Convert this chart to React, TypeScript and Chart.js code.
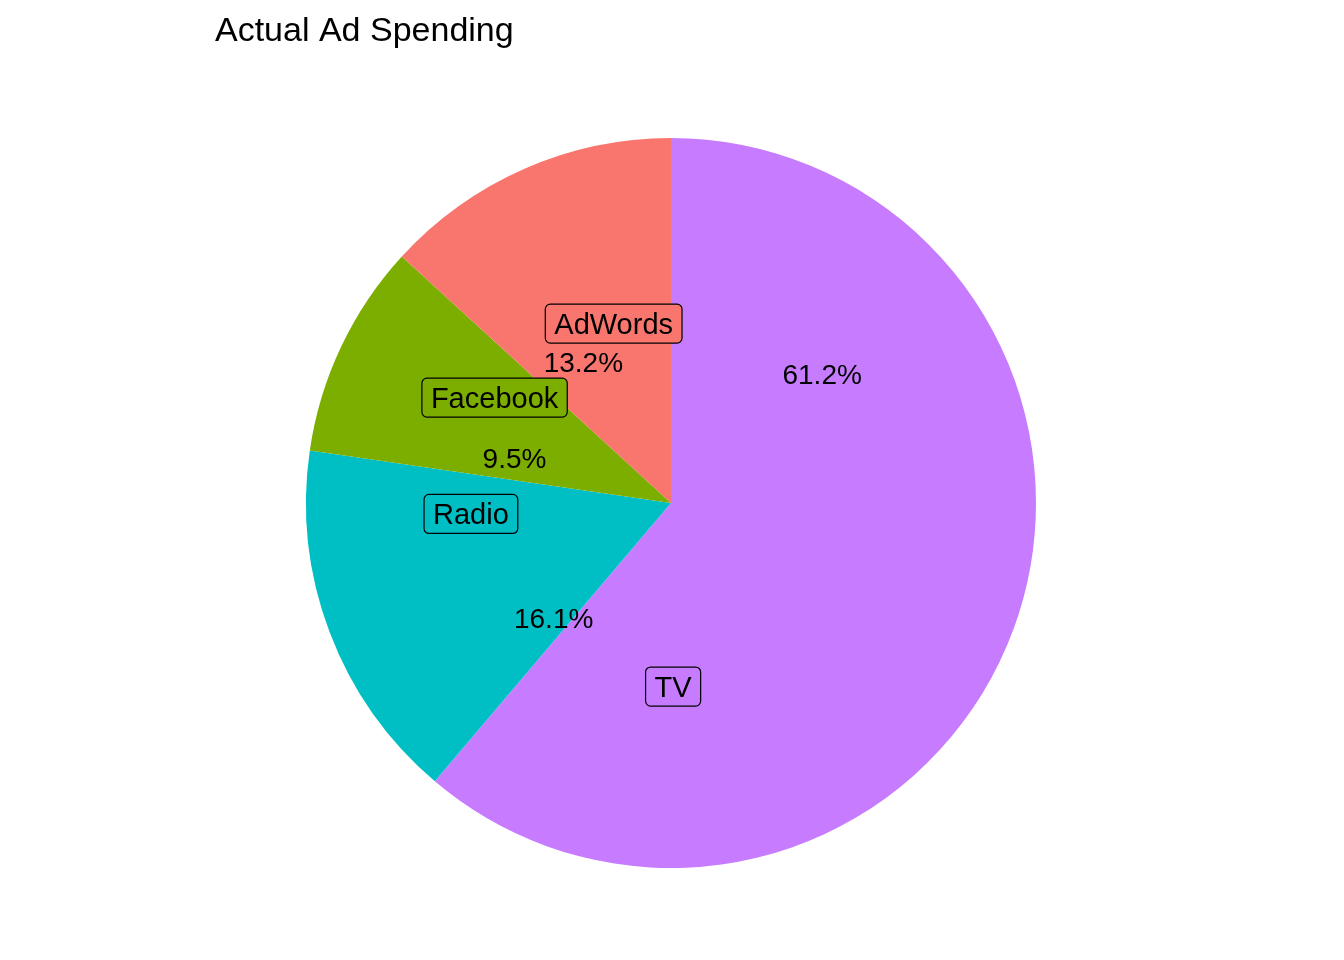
import React, { useEffect, useRef } from "react";
import { Chart, registerables } from "chart.js";

Chart.register(...registerables);

const TITLE = "Actual Ad Spending";
const categories = ["AdWords", "Facebook", "Radio", "TV"];
const shares = [13.2, 9.5, 16.1, 61.2];
const colors = ["#F8766D", "#7CAE00", "#00BFC4", "#C77CFF"];

// label placement relative to each slice (fraction of slice, counter-clockwise from its start; radius fraction)
const nameAlong = [0.373, 0.34, 0.197, 0.186];
const nameRadius = [0.516, 0.563, 0.549, 0.503];
const pctAlong = [0.67, 0.774, 0.909, 0.775];
const pctRadius = [0.455, 0.446, 0.45, 0.544];

const FONT = '"Liberation Sans", Arial, sans-serif';

function roundRect(ctx: CanvasRenderingContext2D, x: number, y: number, w: number, h: number, r: number) {
  ctx.beginPath();
  ctx.moveTo(x + r, y);
  ctx.lineTo(x + w - r, y);
  ctx.arcTo(x + w, y, x + w, y + r, r);
  ctx.lineTo(x + w, y + h - r);
  ctx.arcTo(x + w, y + h, x + w - r, y + h, r);
  ctx.lineTo(x + r, y + h);
  ctx.arcTo(x, y + h, x, y + h - r, r);
  ctx.lineTo(x, y + r);
  ctx.arcTo(x, y, x + r, y, r);
  ctx.closePath();
}

const labelPlugin = {
  id: "pieLabels",
  afterDraw(chart: any) {
    const ctx: CanvasRenderingContext2D = chart.ctx;
    const meta = chart.getDatasetMeta(0);
    const n = categories.length;
    ctx.save();
    ctx.textAlign = "center";
    ctx.textBaseline = "alphabetic";
    meta.data.forEach((arc: any, i: number) => {
      const k = n - 1 - i; // data drawn reversed
      const { x, y, startAngle, endAngle, outerRadius } = arc.getProps(
        ["x", "y", "startAngle", "endAngle", "outerRadius"],
        true
      );
      const span = endAngle - startAngle;
      // percentage text
      const pa = endAngle - pctAlong[k] * span;
      const pr = pctRadius[k] * outerRadius;
      const px = x + pr * Math.cos(pa);
      const py = y + pr * Math.sin(pa);
      ctx.font = `28px ${FONT}`;
      ctx.fillStyle = "#000";
      ctx.fillText(shares[k].toFixed(1) + "%", px, py + 10);
      // name label box
      const na = endAngle - nameAlong[k] * span;
      const nr = nameRadius[k] * outerRadius;
      const nx = x + nr * Math.cos(na);
      const ny = y + nr * Math.sin(na);
      ctx.font = `29px ${FONT}`;
      const tw = ctx.measureText(categories[k]).width;
      const bw = tw + 18;
      const bh = 39;
      roundRect(ctx, nx - bw / 2, ny - bh / 2, bw, bh, 5);
      ctx.fillStyle = colors[k];
      ctx.fill();
      ctx.lineWidth = 1.2;
      ctx.strokeStyle = "#000";
      ctx.stroke();
      ctx.fillStyle = "#000";
      ctx.fillText(categories[k], nx, ny + 10);
    });
    ctx.textAlign = "left";
    ctx.font = `34px ${FONT}`;
    ctx.fillStyle = "#000";
    ctx.fillText(TITLE, 215, 41);
    ctx.restore();
  },
};

export default function App() {
  const ref = useRef<HTMLCanvasElement | null>(null);
  useEffect(() => {
    if (!ref.current) return;
    const rev = <T,>(a: T[]) => a.slice().reverse();
    const chart = new Chart(ref.current, {
      type: "pie",
      data: {
        labels: rev(categories),
        datasets: [
          {
            data: rev(shares),
            backgroundColor: rev(colors),
            borderWidth: 0,
            hoverOffset: 0,
          },
        ],
      },
      options: {
        responsive: false,
        animation: false,
        devicePixelRatio: 1,
        layout: { padding: { top: 138, bottom: 92, left: 0, right: 2 } },
        plugins: {
          legend: { display: false },
          tooltip: { enabled: false },
          title: { display: false },
        },
        events: [],
      },
      plugins: [labelPlugin],
    });
    return () => chart.destroy();
  }, []);
  return (
    <div style={{ position: "absolute", left: 0, top: 0, width: 1344, height: 960, background: "#fff" }}>
      <canvas ref={ref} width={1344} height={960} style={{ width: 1344, height: 960 }} />
    </div>
  );
}
